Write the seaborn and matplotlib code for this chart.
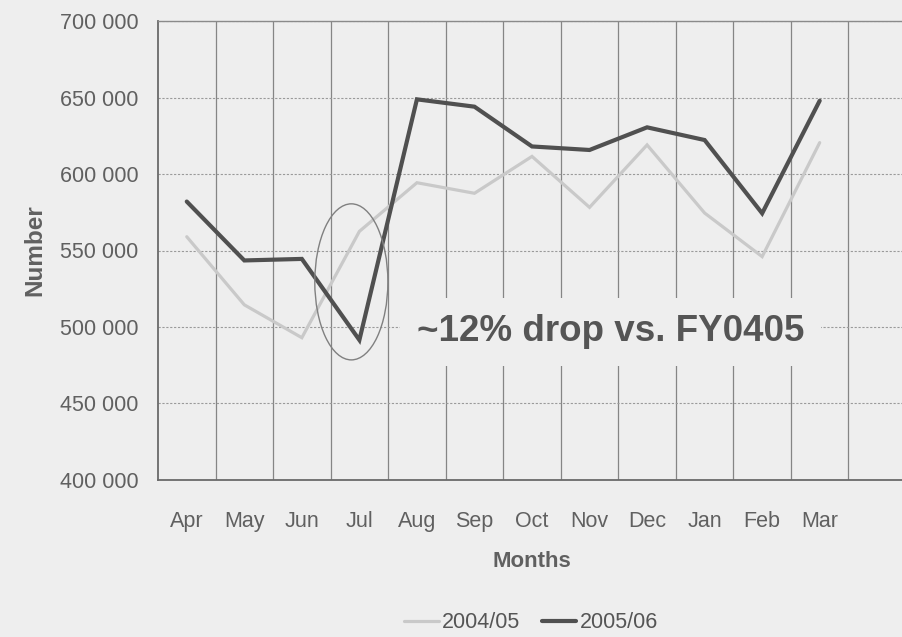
import matplotlib
matplotlib.use("Agg")
import matplotlib.pyplot as plt
from matplotlib.patches import Ellipse
from matplotlib.lines import Line2D
import seaborn as sns
import pandas as pd

months = ["Apr", "May", "Jun", "Jul", "Aug", "Sep", "Oct", "Nov", "Dec", "Jan", "Feb", "Mar"]
values_0405 = [559000, 514500, 493000, 562500, 594300, 587400, 611500, 578200, 619000, 574500, 546000, 620500]
values_0506 = [582000, 543500, 544500, 491500, 648800, 644000, 618000, 615700, 630500, 622200, 574300, 647900]
series_names = ["2004/05", "2005/06"]
y_ticks = [400000, 450000, 500000, 550000, 600000, 650000, 700000]
annotation = "~12% drop vs. FY0405"

BG = "#eeeeee"
sns.set_theme(style="white")
plt.rcParams["font.family"] = ["Liberation Sans", "DejaVu Sans"]

rows = []
for name, vals in zip(series_names, [values_0405, values_0506]):
    for i, v in enumerate(vals):
        rows.append({"idx": i, "Month": months[i], "Number": v, "Series": name})
df = pd.DataFrame(rows)

fig = plt.figure(figsize=(9.03, 6.37), dpi=100, facecolor=BG)
ax = fig.add_axes([158 / 903, 1 - 480 / 637, (906 - 158) / 903, (480 - 21) / 637])
ax.set_facecolor(BG)

sns.lineplot(data=df, x="idx", y="Number", hue="Series",
             palette={"2004/05": "#c9c9c9", "2005/06": "#505050"},
             ax=ax, legend=False, sort=True)
lines = ax.get_lines()
lines[0].set_linewidth(2.3)
lines[1].set_linewidth(3.0)
for ln in lines:
    ln.set_solid_joinstyle("miter")

ax.set_xlim(-0.5, 12.5)
ax.set_ylim(y_ticks[0], y_ticks[-1])
ax.set_yticks(y_ticks)
ax.set_yticklabels([f"{t:,}".replace(",", " ") for t in y_ticks])
ax.set_xticks(range(len(months)))
ax.set_xticklabels(months)
ax.set_xticks([i - 0.5 for i in range(1, 14)], minor=True)

ax.grid(False)
ax.set_axisbelow(True)
ax.yaxis.grid(True, which="major", color="#9a9a9a", linestyle=(0, (2, 1.5)), linewidth=0.8)
ax.xaxis.grid(True, which="minor", color="#858585", linestyle="-", linewidth=0.9)
ax.tick_params(axis="both", which="both", length=0)
ax.tick_params(axis="x", pad=22, labelsize=15.5, labelcolor="#606060")
ax.tick_params(axis="y", pad=14, labelsize=15.5, labelcolor="#606060")

for side in ["left", "bottom"]:
    ax.spines[side].set_color("#6a6a6a")
    ax.spines[side].set_linewidth(1.3)
ax.spines["top"].set_color("#8a8a8a")
ax.spines["top"].set_linewidth(1.0)
ax.spines["right"].set_visible(False)

ax.set_xlabel("Months", fontsize=16, fontweight="bold", color="#606060", labelpad=14)
ax.set_ylabel("Number", fontsize=17.5, fontweight="bold", color="#606060", labelpad=10)

jul = months.index("Jul")
ell = Ellipse((jul - 0.14, 529500), width=1.27, height=102000,
              fill=False, edgecolor="#808080", linewidth=1.0, zorder=2.5)
ax.add_patch(ell)

ax.text(4.0, 497000, annotation, fontsize=26.5, fontweight="bold", color="#555555",
        ha="left", va="center", zorder=3,
        bbox=dict(boxstyle="square,pad=0.45", facecolor=BG, edgecolor="none"))

handles = [Line2D([], [], color="#c9c9c9", linewidth=2.3),
           Line2D([], [], color="#505050", linewidth=3.0)]
fig.legend(handles, series_names, loc="center", bbox_to_anchor=(531 / 903, 1 - 623 / 637),
           ncol=2, frameon=False, fontsize=15.5, handlelength=1.6, handletextpad=0.15,
           columnspacing=1.0, labelcolor="#555555")

fig.savefig("out.png", dpi=100, facecolor=BG)
